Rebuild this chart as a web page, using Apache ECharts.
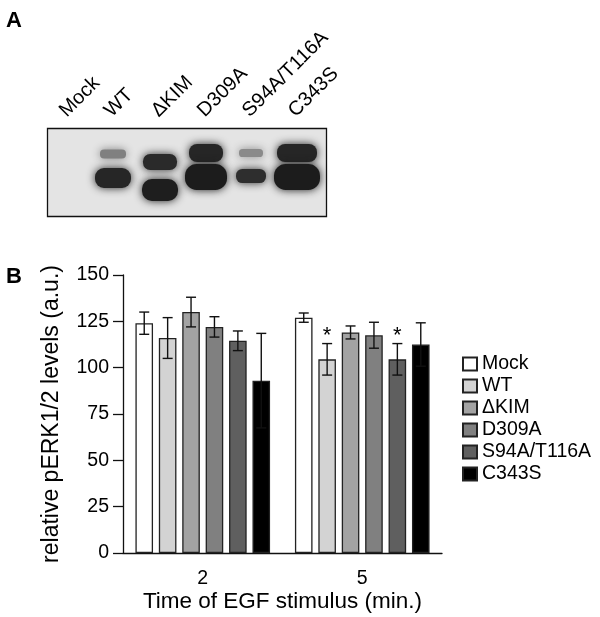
<!DOCTYPE html>
<html>
<head>
  <meta charset="UTF-8">
  <title>pERK1/2 levels</title>
  <script src="https://cdn.jsdelivr.net/npm/echarts@6/dist/echarts.min.js"></script>
</head>
<body style="margin:0;background:#fff">
  <div id="main" style="width: 600px; height: 617px"></div>
  <script>
    // panel B data
    const times = ['2', '5'];
    const groups = ['Mock', 'WT', 'ΔKIM', 'D309A', 'S94A/T116A', 'C343S'];
    const colors = ['#ffffff', '#d3d3d3', '#a3a3a3', '#808080', '#5f5f5f', '#000000'];
    const means = [
      [124, 127],    // Mock
      [116, 104.5],  // WT
      [130, 119],    // ΔKIM
      [122, 117.5],  // D309A
      [114.5, 104.5],// S94A/T116A
      [93, 112.5]    // C343S
    ];
    const errs = [
      [6, 2.5],
      [11, 8.5],
      [8, 3.5],
      [5.5, 7],
      [5.3, 8.5],
      [25.5, 11.7]
    ];
    const stars = [
      ['', ''],
      ['', '*'],
      ['', ''],
      ['', ''],
      ['', '*'],
      ['', '']
    ];
    const yTicks = [0, 25, 50, 75, 100, 125, 150];

    // panel A: lane labels and a sketch of the blot bands
    const lanes = ['Mock', 'WT', 'ΔKIM', 'D309A', 'S94A/T116A', 'C343S'];
    const laneX = [68, 113, 160, 206, 251, 297];
    // [lane, y, half width, half height, colour]
    const blotBands = [
      [1, 154, 13, 4.5, '#808080'],
      [1, 178, 18, 10, '#262626'],
      [2, 162, 17, 8, '#2a2a2a'],
      [2, 190, 18, 11, '#1e1e1e'],
      [3, 153, 17, 9, '#262626'],
      [3, 177, 21, 13, '#1c1c1c'],
      [4, 153, 12, 4, '#8a8a8a'],
      [4, 176, 15, 7, '#2e2e2e'],
      [5, 153, 20, 9, '#262626'],
      [5, 177, 23, 13, '#1c1c1c']
    ];

    const font = 'Liberation Sans, Arial, sans-serif';
    const barW = 17.6, barGap = 0.33;

    const myChart = echarts.init(document.getElementById('main'));

    const graphics = [
      { type: 'text', left: 6, top: 10, style: { text: 'A', font: 'bold 22px ' + font, fill: '#000' } },
      { type: 'text', left: 6, top: 266, style: { text: 'B', font: 'bold 22px ' + font, fill: '#000' } },
      { type: 'rect', shape: { x: 47.5, y: 128.5, width: 279, height: 88 },
        style: { fill: '#e4e4e4', stroke: '#111', lineWidth: 1.3 } }
    ];
    blotBands.forEach(function (b) {
      graphics.push({
        type: 'rect',
        shape: { x: laneX[b[0]] - b[2], y: b[1] - b[3], width: 2 * b[2], height: 2 * b[3], r: b[3] * 0.9 },
        style: { fill: b[4], shadowBlur: 9, shadowColor: b[4] }
      });
    });
    lanes.forEach(function (name, i) {
      graphics.push({
        type: 'text',
        x: laneX[i] + 2, y: 121,
        rotation: Math.PI / 4,
        style: { text: name, font: '20px ' + font, fill: '#000', align: 'left', verticalAlign: 'bottom' }
      });
    });

    const barSeries = groups.map(function (g, i) {
      return {
        name: g,
        type: 'bar',
        barWidth: barW,
        barGap: (barGap * 100) + '%',
        data: means[i],
        itemStyle: { color: colors[i], borderColor: '#222', borderWidth: 1.3 },
        silent: true
      };
    });

    // error bars: one item per bar
    const errData = [];
    groups.forEach(function (g, i) {
      times.forEach(function (t, j) {
        errData.push([j, means[i][j], errs[i][j], i, stars[i][j]]);
      });
    });

    const errSeries = {
      type: 'custom',
      data: errData,
      z: 5,
      silent: true,
      renderItem: function (params, api) {
        const step = barW * (1 + barGap);
        const off = (api.value(3) - (groups.length - 1) / 2) * step;
        const m = api.value(1), e = api.value(2);
        const top = api.coord([api.value(0), m + e]);
        const bot = api.coord([api.value(0), m - e]);
        const x = top[0] + off, cap = 5;
        const st = { stroke: '#111', lineWidth: 1.4 };
        const children = [
          { type: 'line', shape: { x1: x, y1: top[1], x2: x, y2: bot[1] }, style: st },
          { type: 'line', shape: { x1: x - cap, y1: top[1], x2: x + cap, y2: top[1] }, style: st },
          { type: 'line', shape: { x1: x - cap, y1: bot[1], x2: x + cap, y2: bot[1] }, style: st }
        ];
        const s = stars[api.value(3)][api.value(0)];
        if (s) {
          children.push({
            type: 'text', x: x, y: top[1] + 3,
            style: { text: s, font: '22px ' + font, fill: '#000', align: 'center', verticalAlign: 'bottom' }
          });
        }
        return { type: 'group', children: children };
      }
    };

    myChart.setOption({
      backgroundColor: '#fff',
      animation: false,
      graphic: graphics,
      legend: {
        orient: 'vertical',
        left: 462,
        top: 354,
        padding: 0,
        itemWidth: 14,
        itemHeight: 13,
        itemGap: 2,
        icon: 'rect',
        data: groups,
        textStyle: { fontFamily: font, fontSize: 19.5, color: '#000' },
        selectedMode: false
      },
      grid: { left: 123, right: 158, top: 275, bottom: 64 },
      xAxis: {
        type: 'category',
        data: times,
        name: 'Time of EGF stimulus (min.)',
        nameLocation: 'middle',
        nameGap: 36,
        nameTextStyle: { fontFamily: font, fontSize: 22.5, color: '#000' },
        axisLine: { lineStyle: { color: '#111', width: 1.3 } },
        axisTick: { show: false },
        axisLabel: { fontFamily: font, fontSize: 19.5, color: '#000', margin: 16 }
      },
      yAxis: {
        type: 'value',
        min: 0,
        max: 150,
        interval: 25,
        name: 'relative pERK1/2 levels (a.u.)',
        nameLocation: 'middle',
        nameGap: 60,
        nameTextStyle: { fontFamily: font, fontSize: 23, color: '#000' },
        axisLine: { show: true, lineStyle: { color: '#111', width: 1.3 } },
        axisTick: { show: true, length: 10, lineStyle: { color: '#111', width: 1.3 } },
        axisLabel: {
          fontFamily: font, fontSize: 19.5, color: '#000', margin: 14,
          formatter: function (v) { return yTicks.indexOf(v) >= 0 ? String(v) : ''; }
        },
        splitLine: { show: false }
      },
      series: barSeries.concat([errSeries])
    });
  </script>
</body>
</html>
